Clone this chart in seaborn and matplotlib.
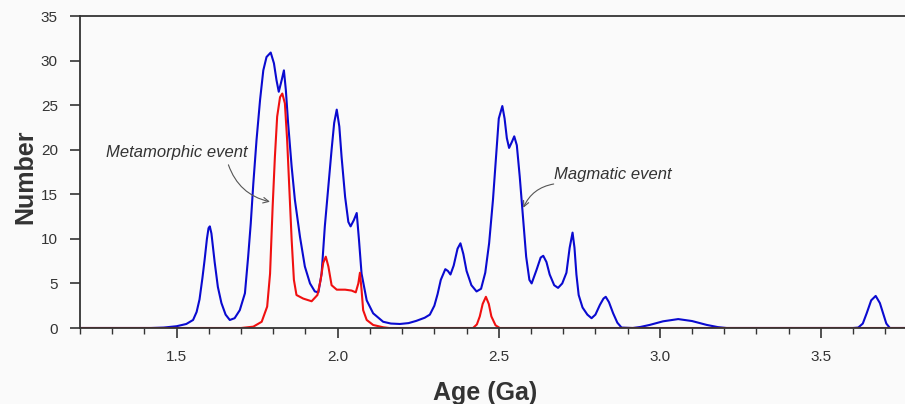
import numpy as np
import pandas as pd
import matplotlib
matplotlib.use("Agg")
import matplotlib.pyplot as plt
from matplotlib.ticker import MultipleLocator
import seaborn as sns

# Blue curve (all ages)
blue_age = [1.20, 1.42, 1.46, 1.50, 1.53, 1.551, 1.562, 1.571, 1.580, 1.587, 1.594, 1.599,
            1.603, 1.608, 1.613, 1.618, 1.628, 1.639, 1.652, 1.665, 1.680, 1.696, 1.712,
            1.722, 1.730, 1.738, 1.748, 1.759, 1.769, 1.779, 1.792, 1.802, 1.810, 1.817,
            1.826, 1.833, 1.839, 1.846, 1.857, 1.867, 1.883, 1.898, 1.914, 1.929, 1.940,
            1.950, 1.960, 1.971, 1.981, 1.989, 1.997, 2.005, 2.012, 2.023, 2.033, 2.040,
            2.050, 2.059, 2.066, 2.074, 2.090, 2.110, 2.141, 2.165, 2.193, 2.220, 2.244,
            2.270, 2.286, 2.300, 2.310, 2.320, 2.334, 2.342, 2.350, 2.360, 2.372, 2.381,
            2.390, 2.400, 2.415, 2.431, 2.445, 2.458, 2.470, 2.482, 2.492, 2.500, 2.511,
            2.518, 2.525, 2.532, 2.541, 2.548, 2.556, 2.565, 2.575, 2.585, 2.595, 2.602,
            2.617, 2.630, 2.638, 2.648, 2.658, 2.672, 2.684, 2.697, 2.710, 2.720, 2.729,
            2.735, 2.741, 2.748, 2.760, 2.775, 2.788, 2.800, 2.814, 2.825, 2.832, 2.842,
            2.855, 2.868, 2.881, 2.916, 2.940, 2.969, 3.010, 3.057, 3.100, 3.145, 3.180,
            3.207, 3.600, 3.616, 3.630, 3.642, 3.656, 3.670, 3.683, 3.693, 3.703, 3.714,
            3.76]
blue_num = [0.0, 0.0, 0.05, 0.2, 0.45, 0.9, 1.8, 3.2, 5.6, 7.7, 10.0, 11.2,
            11.4, 10.6, 9.0, 7.4, 4.6, 2.8, 1.5, 0.9, 1.1, 2.0, 3.9,
            8.0, 11.7, 16.2, 21.1, 25.6, 28.9, 30.4, 30.9, 29.7, 27.8, 26.5,
            27.8, 28.9, 26.7, 23.0, 18.1, 14.4, 10.2, 6.9, 5.0, 4.1, 4.0,
            6.1, 11.4, 15.9, 20.0, 23.0, 24.5, 22.6, 19.2, 14.7, 11.9, 11.4,
            12.1, 12.9, 9.9, 6.1, 3.1, 1.65, 0.7, 0.5, 0.45, 0.55, 0.8,
            1.15, 1.5, 2.5, 3.8, 5.4, 6.6, 6.4, 6.0, 7.0, 8.9, 9.5,
            8.3, 6.4, 4.8, 4.1, 4.4, 6.2, 9.5, 14.4, 19.5, 23.5, 24.9,
            23.5, 21.3, 20.2, 20.9, 21.5, 20.5, 17.0, 12.5, 8.0, 5.4, 5.0,
            6.5, 7.9, 8.1, 7.4, 6.0, 4.8, 4.5, 5.0, 6.2, 9.0, 10.7,
            9.0, 6.0, 3.7, 2.3, 1.5, 1.1, 1.5, 2.6, 3.3, 3.5, 2.9,
            1.65, 0.6, 0.05, 0.0, 0.12, 0.35, 0.75, 1.0, 0.78, 0.35, 0.1,
            0.0, 0.0, 0.05, 0.5, 1.65, 3.1, 3.6, 2.8, 1.65, 0.5, 0.0,
            0.0]

# Red curve (metamorphic rims)
red_age = [1.20, 1.70, 1.738, 1.764, 1.781, 1.790, 1.798, 1.805, 1.812, 1.821, 1.828, 1.836,
           1.843, 1.850, 1.857, 1.864, 1.872, 1.893, 1.919, 1.937, 1.947, 1.955, 1.963,
           1.971, 1.981, 1.997, 2.023, 2.043, 2.056, 2.064, 2.069, 2.074, 2.079, 2.090,
           2.110, 2.141, 2.160, 2.420, 2.432, 2.441, 2.450, 2.460, 2.469, 2.477, 2.490,
           2.503, 3.76]
red_num = [0.0, 0.0, 0.15, 0.7, 2.4, 6.1, 13.6, 19.2, 23.7, 25.9, 26.3, 25.2,
           21.1, 15.5, 9.9, 5.4, 3.7, 3.3, 3.0, 3.7, 5.4, 7.3, 8.0,
           6.9, 4.8, 4.3, 4.3, 4.2, 4.0, 5.0, 6.2, 4.3, 2.0, 0.9,
           0.34, 0.08, 0.0, 0.0, 0.4, 1.3, 2.7, 3.5, 2.7, 1.3, 0.3,
           0.0, 0.0]

x_ticks = [1.5, 2.0, 2.5, 3.0, 3.5]
y_ticks = [0, 5, 10, 15, 20, 25, 30, 35]

sns.set_style("ticks")
plt.rcParams["font.family"] = ["Liberation Sans", "DejaVu Sans"]

fig = plt.figure(figsize=(9.05, 4.04), dpi=100, facecolor="#fafafa")
ax = fig.add_axes([80 / 905, 76 / 404, 825 / 905, 312 / 404])
ax.set_facecolor("#fafafa")

blue = pd.DataFrame({"age": blue_age, "num": blue_num})
red = pd.DataFrame({"age": red_age, "num": red_num})
sns.lineplot(data=blue, x="age", y="num", color="#0a0ad0", linewidth=1.5, ax=ax)
sns.lineplot(data=red, x="age", y="num", color="#f01010", linewidth=1.5, ax=ax)

ax.set_xlim(1.2, 3.761)
ax.set_ylim(0, 35)
ax.set_xticks(x_ticks)
ax.set_xticklabels(["%.1f" % t for t in x_ticks])
ax.set_yticks(y_ticks)
ax.xaxis.set_minor_locator(MultipleLocator(0.1))
ax.tick_params(axis="x", which="major", length=7, width=1.2, pad=9,
               labelsize=11, colors="#333333")
ax.tick_params(axis="x", which="minor", length=4, width=1.0, colors="#333333")
ax.tick_params(axis="y", which="major", length=7, width=1.2, pad=9,
               labelsize=11, colors="#333333")

for side in ["left", "bottom", "top"]:
    ax.spines[side].set_color("#333333")
    ax.spines[side].set_linewidth(1.3)
ax.spines["right"].set_visible(False)

ax.set_xlabel("Age (Ga)", fontsize=18, fontweight="bold", color="#333333")
ax.set_ylabel("Number", fontsize=18, fontweight="bold", color="#333333")
ax.xaxis.set_label_coords(0.4915, -0.17)
ax.yaxis.set_label_coords(-0.052, 0.486)

ax.text(1.502, 19.2, "Metamorphic event", fontsize=12, style="italic",
        color="#333333", ha="center", va="baseline")
ax.annotate("", xy=(1.798, 14.1), xytext=(1.658, 18.6),
            arrowprops=dict(arrowstyle="->", color="#555555", lw=0.8,
                            connectionstyle="arc3,rad=0.3"))
ax.text(2.854, 16.7, "Magmatic event", fontsize=12, style="italic",
        color="#333333", ha="center", va="baseline")
ax.annotate("", xy=(2.573, 13.2), xytext=(2.679, 16.2),
            arrowprops=dict(arrowstyle="->", color="#555555", lw=0.8,
                            connectionstyle="arc3,rad=0.3"))

fig.savefig("out.png", dpi=100, facecolor=fig.get_facecolor())
